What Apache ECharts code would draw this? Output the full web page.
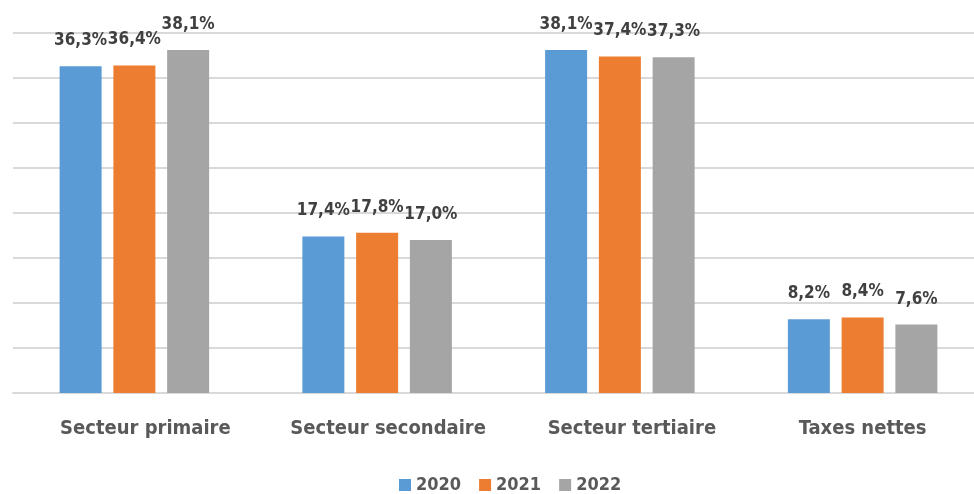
<!DOCTYPE html>
<html>
<head>
<meta charset="utf-8">
<script src="https://cdn.jsdelivr.net/npm/echarts@6/dist/echarts.min.js"></script>
<style>
html,body{margin:0;padding:0;background:#fff;overflow:hidden;width:974px;height:494px;}
#c{width:990px;height:494px;}
</style>
</head>
<body>
<div id="c"></div>
<script>
var categories = ['Secteur primaire', 'Secteur secondaire', 'Secteur tertiaire', 'Taxes nettes'];
var seriesNames = ['2020', '2021', '2022'];
var values2020 = [36.3, 17.4, 38.1, 8.2];
var values2021 = [36.4, 17.8, 37.4, 8.4];
var values2022 = [38.1, 17.0, 37.3, 7.6];
var colors = ['#5B9BD5', '#ED7D31', '#A5A5A5'];

var FONT = '"DejaVu Sans Condensed", "DejaVu Sans", sans-serif';
var labelShift = [22, 22, 24, 0];
var richStyles = {};
labelShift.forEach(function (s, i) {
  richStyles['c' + i] = {
    fontFamily: FONT, fontWeight: 'bold', fontSize: 20, color: '#595959',
    padding: [0, 0, 0, s]
  };
});

var chart = echarts.init(document.getElementById('c'), null, {renderer: 'canvas'});
function mk(name, data, color) {
  return {
    name: name,
    type: 'bar',
    data: data,
    barWidth: 42,
    barGap: '28%',
    itemStyle: {color: color},
    label: {
      show: true,
      position: 'top',
      distance: 17,
      fontFamily: FONT,
      fontWeight: 'bold',
      fontSize: 17,
      color: '#404040',
      formatter: function (p) { return p.value.toFixed(1).replace('.', ',') + '%'; }
    }
  };
}
chart.setOption({
  animation: false,
  color: colors,
  grid: {left: 13, width: 971, top: 33, bottom: 101, containLabel: false},
  legend: {
    top: 471,
    left: 394,
    itemWidth: 12,
    itemHeight: 12,
    itemGap: 18,
    icon: 'rect',
    textStyle: {fontFamily: FONT, fontWeight: 'bold', fontSize: 18, color: '#595959'},
    data: seriesNames
  },
  xAxis: {
    type: 'category',
    data: categories,
    axisTick: {show: false},
    axisLine: {lineStyle: {color: '#d9d9d9', width: 2}},
    axisLabel: {
      interval: 0,
      margin: 26,
      fontFamily: FONT, fontWeight: 'bold', fontSize: 20, color: '#595959',
      formatter: function (v, i) { return '{c' + i + '|' + v + '}'; },
      rich: richStyles
    }
  },
  yAxis: {
    type: 'value',
    min: 0,
    max: 40,
    interval: 5,
    axisLabel: {show: false},
    axisLine: {show: false},
    axisTick: {show: false},
    splitLine: {lineStyle: {color: '#d9d9d9', width: 2}}
  },
  series: [
    mk(seriesNames[0], values2020, colors[0]),
    mk(seriesNames[1], values2021, colors[1]),
    mk(seriesNames[2], values2022, colors[2])
  ]
});
</script>
</body>
</html>
